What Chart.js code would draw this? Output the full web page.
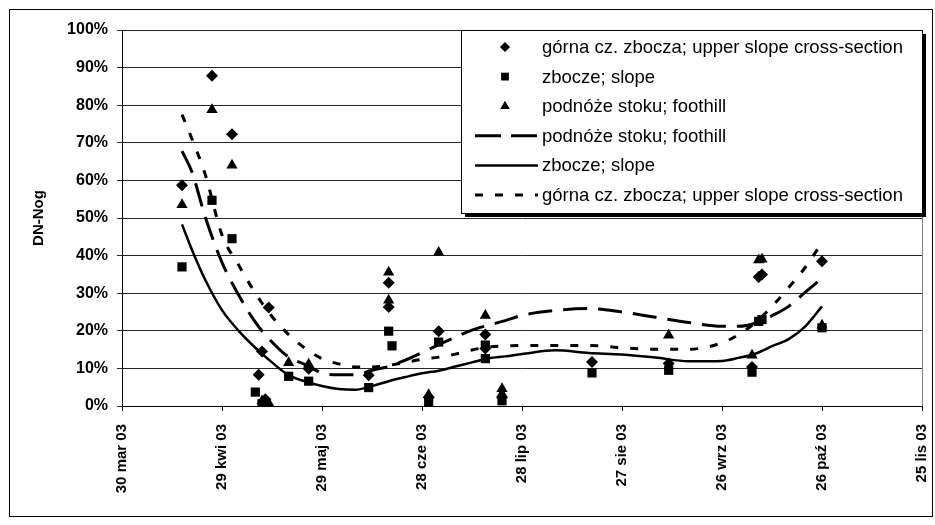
<!DOCTYPE html>
<html>
<head>
<meta charset="utf-8">
<script src="https://cdn.jsdelivr.net/npm/chart.js@4.4.1/dist/chart.umd.min.js"></script>
<style>
  html, body { margin: 0; padding: 0; background: #fff; }
  canvas { display: block; }
</style>
</head>
<body>
<canvas id="chart" width="935" height="525"></canvas>
<script>
// Sampling season: day 0 is 30 March 2003
const seasonStart = '2003-03-30';
const seasonEnd = '2003-11-25';
const xTickLabels = ['30 mar 03', '29 kwi 03', '29 maj 03', '28 cze 03', '28 lip 03',
                     '27 sie 03', '26 wrz 03', '26 paź 03', '25 lis 03'];

// Measured DN-Nog (%) – upper slope cross-section
const upperDates = ['2003-04-17', '2003-04-26', '2003-05-02', '2003-05-10', '2003-05-11', '2003-05-12',
                    '2003-05-13', '2003-05-25', '2003-06-12', '2003-06-18', '2003-06-18', '2003-06-30',
                    '2003-07-03', '2003-07-17', '2003-07-17', '2003-07-22', '2003-08-18', '2003-09-10',
                    '2003-10-05', '2003-10-07', '2003-10-08', '2003-10-26'];
const upperValues = [58.7, 87.8, 72.3, 8.3, 14.5, 1.8,
                     26.2, 9.9, 8.2, 32.8, 26.3, 2.3,
                     19.9, 19.0, 15.3, 2.3, 11.7, 11.3,
                     10.4, 34.3, 35.0, 38.5];

// Measured DN-Nog (%) – slope
const slopeDates = ['2003-04-17', '2003-04-26', '2003-05-02', '2003-05-09', '2003-05-11', '2003-05-12',
                    '2003-05-19', '2003-05-25', '2003-06-12', '2003-06-18', '2003-06-19', '2003-06-30',
                    '2003-07-03', '2003-07-17', '2003-07-17', '2003-07-22', '2003-08-18', '2003-09-10',
                    '2003-10-05', '2003-10-07', '2003-10-08', '2003-10-26'];
const slopeValues = [37.0, 54.7, 44.5, 3.7, 0.6, 0.4,
                     7.9, 6.6, 4.9, 19.9, 16.0, 1.0,
                     17.0, 16.2, 12.6, 1.4, 8.8, 9.5,
                     9.0, 22.5, 23.0, 20.8];

// Measured DN-Nog (%) – foothill
const footDates = ['2003-04-17', '2003-04-26', '2003-05-02', '2003-05-11', '2003-05-12', '2003-05-13',
                   '2003-05-19', '2003-05-25', '2003-06-18', '2003-06-18', '2003-06-30', '2003-07-03',
                   '2003-07-17', '2003-07-22', '2003-07-22', '2003-09-10', '2003-10-05', '2003-10-07',
                   '2003-10-08', '2003-10-26'];
const footValues = [53.5, 78.8, 64.0, 1.3, 0.9, 0.8,
                    11.5, 11.1, 35.6, 28.1, 3.0, 40.8,
                    24.1, 4.6, 3.2, 18.8, 13.5, 38.8,
                    39.0, 21.5];

// Fitted trend curves (%)
const trendDates = ['2003-04-17', '2003-04-20', '2003-04-24', '2003-04-29', '2003-05-04', '2003-05-09',
                    '2003-05-14', '2003-05-19', '2003-05-24', '2003-05-29', '2003-06-03', '2003-06-08',
                    '2003-06-13', '2003-06-18', '2003-06-23', '2003-06-28', '2003-07-03', '2003-07-08',
                    '2003-07-13', '2003-07-18', '2003-07-23', '2003-07-28', '2003-08-07', '2003-08-17',
                    '2003-08-27', '2003-09-06', '2003-09-16', '2003-09-26', '2003-10-01', '2003-10-06',
                    '2003-10-11', '2003-10-16', '2003-10-21', '2003-10-26'];
const footTrend = [67.8, 62.2, 50.2, 38.2, 29.5, 22.3, 17.0, 13.0, 11.0, 8.8, 8.3, 8.3,
                   9.5, 10.5, 12.2, 14.2, 16.3, 18.3, 20.2, 21.5, 22.7, 24.1, 25.4, 25.9,
                   25.0, 23.6, 22.2, 21.2, 21.2, 22.0, 24.0, 26.5, 30.3, 34.0];
const slopeTrend = [48.3, 41.5, 33.5, 25.5, 20.0, 15.5, 11.6, 8.2, 6.5, 5.3, 4.5, 4.3,
                    5.3, 6.6, 7.7, 8.7, 9.4, 10.5, 11.6, 12.7, 13.2, 13.8, 14.8, 14.1,
                    13.7, 12.9, 11.9, 12.0, 12.8, 13.9, 15.9, 17.8, 21.2, 26.5];
const upperTrend = [77.5, 71.0, 61.5, 45.5, 37.5, 30.0, 23.8, 19.0, 15.3, 12.6, 11.2, 10.4,
                    10.4, 10.8, 11.6, 12.4, 13.0, 13.8, 14.9, 15.7, 16.0, 16.1, 16.1, 16.1,
                    15.5, 15.1, 15.1, 16.8, 19.0, 22.2, 26.5, 31.5, 36.9, 43.5];

const DAY_MS = 86400000;
const toDay = s => {
  const [y, m, d] = s.split('-').map(Number);
  const [y0, m0, d0] = seasonStart.split('-').map(Number);
  return Math.round((Date.UTC(y, m - 1, d) - Date.UTC(y0, m0 - 1, d0)) / DAY_MS);
};
const pts = (dates, values) => dates.map((d, i) => ({ x: toDay(d), y: values[i] }));

const FONT = "'Liberation Sans', Arial, sans-serif";

const markerSet = (label, dates, values, style, radius) => ({
  label, data: pts(dates, values), showLine: false,
  pointStyle: style, pointRadius: radius, pointHoverRadius: radius,
  pointBackgroundColor: '#000', pointBorderColor: '#000', pointBorderWidth: 0,
  order: 0
});
const curveSet = (label, values, width, dash) => ({
  label, data: pts(trendDates, values), showLine: true,
  borderColor: '#000', borderWidth: width, borderDash: dash, borderCapStyle: 'butt',
  pointRadius: 0, pointHoverRadius: 0, tension: 0.35, cubicInterpolationMode: 'monotone',
  fill: false, order: 1
});

// White page plus the outer frame and the right edge of the plot area
const framePlugin = {
  id: 'frame',
  beforeDraw(chart) {
    const ctx = chart.ctx;
    ctx.save();
    ctx.fillStyle = '#fff';
    ctx.fillRect(0, 0, chart.width, chart.height);
    ctx.restore();
  },
  beforeDatasetsDraw(chart) {
    const { ctx, chartArea } = chart;
    ctx.save();
    ctx.strokeStyle = '#808080';
    ctx.lineWidth = 1;
    const xr = Math.round(chartArea.right) + 0.5;
    ctx.beginPath();
    ctx.moveTo(xr, Math.round(chartArea.top));
    ctx.lineTo(xr, Math.round(chartArea.bottom));
    ctx.stroke();
    ctx.restore();
  },
  afterDraw(chart) {
    const ctx = chart.ctx;
    ctx.save();
    ctx.strokeStyle = '#000';
    ctx.lineWidth = 1;
    ctx.strokeRect(9.5, 9.5, 923, 507);
    ctx.restore();
  }
};

function drawMarker(ctx, style, r, x, y) {
  ctx.beginPath();
  if (style === 'rectRot') {
    ctx.moveTo(x - r, y); ctx.lineTo(x, y - r); ctx.lineTo(x + r, y); ctx.lineTo(x, y + r);
  } else if (style === 'rect') {
    const s = r * Math.SQRT1_2;
    ctx.rect(x - s, y - s, 2 * s, 2 * s);
  } else {
    const a = -Math.PI / 2;
    for (let k = 0; k < 3; k++) {
      const t = a + k * 2 * Math.PI / 3;
      const px = x + Math.cos(t) * r, py = y + Math.sin(t) * r;
      if (k === 0) ctx.moveTo(px, py); else ctx.lineTo(px, py);
    }
  }
  ctx.closePath();
  ctx.fill();
}

// Boxed legend with a drop shadow, inside the top-right corner of the plot
const legendPlugin = {
  id: 'boxLegend',
  afterDatasetsDraw(chart) {
    const { ctx, chartArea } = chart;
    const w = 461, h = 183;
    const x0 = Math.round(chartArea.right) - w, y0 = Math.round(chartArea.top);
    ctx.save();
    ctx.fillStyle = '#000';
    ctx.fillRect(x0 + 4, y0 + h, w, 4);
    ctx.fillRect(x0 + w, y0 + 4, 4, h);
    ctx.fillStyle = '#fff';
    ctx.fillRect(x0, y0, w, h);
    ctx.strokeStyle = '#000';
    ctx.lineWidth = 1;
    ctx.strokeRect(x0 + 0.5, y0 + 0.5, w, h);

    ctx.font = '18.5px ' + FONT;
    ctx.textBaseline = 'middle';
    ctx.textAlign = 'left';
    chart.data.datasets.forEach((ds, i) => {
      const cy = y0 + 17 + i * 29.6;
      ctx.fillStyle = '#000';
      if (ds.showLine) {
        ctx.strokeStyle = '#000';
        ctx.lineWidth = ds.borderWidth;
        ctx.lineCap = 'butt';
        ctx.setLineDash(ds.legendDash || ds.borderDash || []);
        ctx.beginPath();
        ctx.moveTo(x0 + 14, cy);
        ctx.lineTo(x0 + 77, cy);
        ctx.stroke();
        ctx.setLineDash([]);
      } else {
        drawMarker(ctx, ds.pointStyle, ds.pointRadius * 0.85, x0 + 44, cy);
      }
      ctx.fillText(ds.label, x0 + 81, cy + 1);
    });
    ctx.restore();
  }
};

const dashedFoot = curveSet('podnóże stoku; foothill', footTrend, 3, [24, 11]);
dashedFoot.legendDash = [26, 10];
const dottedUpper = curveSet('górna cz. zbocza; upper slope cross-section', upperTrend, 3, [8, 12]);
dottedUpper.legendDash = [8, 12];

new Chart(document.getElementById('chart'), {
  type: 'scatter',
  data: {
    datasets: [
      markerSet('górna cz. zbocza; upper slope cross-section', upperDates, upperValues, 'rectRot', 6),
      markerSet('zbocze; slope', slopeDates, slopeValues, 'rect', 6.5),
      markerSet('podnóże stoku; foothill', footDates, footValues, 'triangle', 6.5),
      dashedFoot,
      curveSet('zbocze; slope', slopeTrend, 2.5, []),
      dottedUpper
    ]
  },
  options: {
    responsive: false,
    animation: false,
    events: [],
    layout: { padding: { top: 30, right: 13, left: 0, bottom: 0 } },
    plugins: { legend: { display: false }, tooltip: { enabled: false } },
    scales: {
      x: {
        type: 'linear',
        min: 0,
        max: toDay(seasonEnd),
        afterFit(scale) {
          scale.height = 119;
          scale.paddingLeft = 0;
          scale.paddingRight = 0;
        },
        ticks: {
          stepSize: 30,
          autoSkip: false,
          minRotation: 90,
          maxRotation: 90,
          padding: 13,
          color: '#000',
          font: { family: FONT, size: 15, weight: 'bold' },
          callback: (v, i) => xTickLabels[i]
        },
        grid: { display: true, drawOnChartArea: false, drawTicks: true, tickLength: 5, color: '#000' },
        border: { display: true, color: '#000', width: 1 }
      },
      y: {
        min: 0,
        max: 100,
        afterFit(scale) {
          scale.width = 122;
          scale.paddingTop = 0;
          scale.paddingBottom = 0;
        },
        ticks: {
          stepSize: 10,
          padding: 9,
          color: '#000',
          font: { family: FONT, size: 16, weight: 'bold' },
          callback: v => v + '%'
        },
        grid: { color: '#262626', lineWidth: 1, tickLength: 5 },
        border: { display: true, color: '#000', width: 1 },
        title: {
          display: true,
          text: 'DN-Nog',
          color: '#000',
          font: { family: FONT, size: 15, weight: 'bold' },
          padding: { top: 30, bottom: 0 }
        }
      }
    }
  },
  plugins: [framePlugin, legendPlugin]
});
</script>
</body>
</html>
